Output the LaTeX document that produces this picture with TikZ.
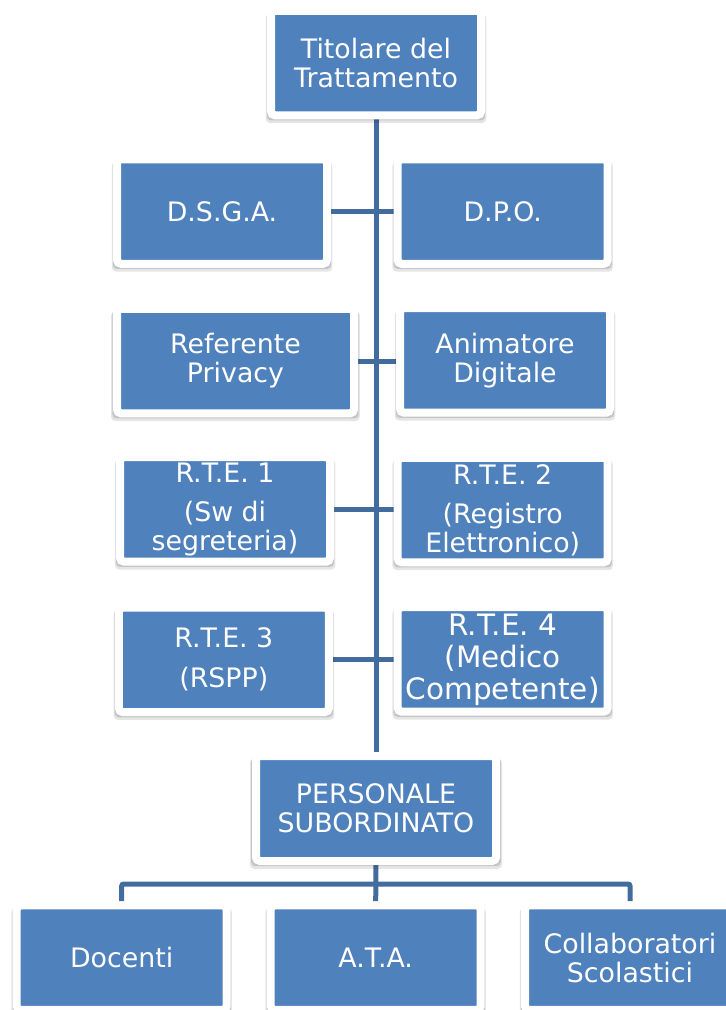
\documentclass[tikz,border=0pt]{standalone}
\usepackage{fontspec}
\setmainfont{DejaVu Sans}
\usetikzlibrary{shadows,backgrounds}
\definecolor{boxblue}{HTML}{4F81BD}
\definecolor{linkblue}{HTML}{426C9E}
\tikzset{
  orgbox/.style={rectangle, fill=boxblue, draw=white, line width=8pt,
    rounded corners=4pt, minimum width=210pt, minimum height=104.5pt,
    text=white, align=center, inner sep=0pt,
    font=\fontsize{26.8}{29}\selectfont,
    drop shadow={shadow xshift=0pt, shadow yshift=-5pt, opacity=0.10,
      fill=black, shadow scale=1.05},
    drop shadow={shadow xshift=0pt, shadow yshift=-3pt, opacity=0.14,
      fill=black, shadow scale=1.04}},
  link/.style={draw=linkblue, line width=5pt},
}
\begin{document}
\begin{tikzpicture}[x=1pt,y=-1pt]
\useasboundingbox (0,0) rectangle (726,1010);
\node[orgbox] (tit) at (376,63) {Titolare del\\Trattamento};
\node[orgbox] (dsga) at (222,211.5) {D.S.G.A.};
\node[orgbox] (dpo) at (502.7,211.5) {D.P.O.};
\node[orgbox, minimum width=237pt] (ref) at (235.5,361) {Referente\\Privacy};
\node[orgbox] (anim) at (505,360.4) {Animatore\\Digitale};
\node[orgbox] (rte1) at (225,509.4) {R.T.E. 1\\[10pt](Sw di\\segreteria)};
\node[orgbox] (rte2) at (502.7,510) {R.T.E. 2\\[10pt](Registro\\Elettronico)};
\node[orgbox] (rte3) at (223.8,659.8) {R.T.E. 3\\[11pt](RSPP)};
\node[orgbox, font=\fontsize{29.5}{32}\selectfont] (rte4) at (502.7,659.4) {R.T.E. 4\\(Medico\\Competente)};
\node[orgbox, minimum width=240pt, minimum height=105pt] (pers) at (376,808.5) {PERSONALE\\SUBORDINATO};
\node[orgbox] (doc) at (121.7,957.7) {Docenti};
\node[orgbox] (ata) at (375.7,957.7) {A.T.A.};
\node[orgbox] (col) at (630,957.7) {Collaboratori\\Scolastici};
\coordinate (bus) at (376,884);
\begin{scope}[on background layer]
\draw[link] (tit.south) -- (pers.north);
\draw[link] (dsga.east) -- (dsga.east -| dpo.west);
\draw[link] (ref.east) -- (ref.east -| anim.west);
\draw[link] (rte1.east) -- (rte1.east -| rte2.west);
\draw[link] (rte3.east) -- (rte3.east -| rte4.west);
\draw[link] (pers.south) -- (ata.north);
\draw[link, rounded corners=2pt] (doc.north) |- (bus) -| (col.north);
\end{scope}
\end{tikzpicture}
\end{document}
